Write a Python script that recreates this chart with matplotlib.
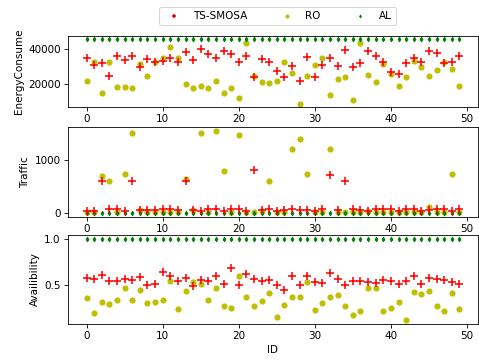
import matplotlib
matplotlib.use("Agg")
import matplotlib.pyplot as plt

ids = list(range(50))

energy_ts = [34700, 30500, 31800, 24200, 35800, 33300, 35800, 29300, 34300, 32200,
             33000, 34700, 32600, 37900, 33300, 39600, 36800, 34700, 38500, 36800,
             32200, 35800, 23800, 33900, 32200, 27000, 23800, 30100, 21500, 35400,
             23800, 30700, 34700, 29900, 38900, 29500, 31800, 38500, 35800, 32200,
             26500, 25500, 31800, 34700, 32200, 38500, 37500, 32000, 32200, 35800]
energy_ro = [21300, 32200, 14700, 32200, 17900, 18300, 17500, 31200, 24600, 32200,
             34900, 40600, 34900, 19800, 17500, 18900, 17500, 21300, 14700, 17500,
             11800, 43400, 24200, 20800, 20400, 21700, 32200, 26100, 8600, 24200,
             30900, 34500, 13700, 22700, 23600, 10900, 43400, 25100, 20800, 31200,
             25500, 18900, 23600, 33100, 29700, 24600, 28000, 32200, 28400, 18500]
energy_al = [45300] * 50

traffic_ts = [45, 45, 610, 78, 78, 45, 610, 65, 58, 58,
              78, 78, 65, 610, 58, 45, 78, 78, 45, 78,
              78, 45, 805, 58, 78, 45, 58, 78, 58, 58,
              45, 78, 715, 58, 610, 78, 65, 52, 78, 78,
              78, 45, 78, 78, 45, 65, 78, 78, 52, 78]
traffic_ro = [30, 25, 700, 600, 35, 730, 1505, 70, 30, 25,
              35, 30, 25, 640, 65, 1505, 30, 1540, 800, 30,
              1460, 25, 30, 45, 600, 25, 30, 1200, 1395, 730,
              25, 30, 1200, 30, 25, 35, 30, 45, 30, 25,
              30, 25, 35, 30, 25, 120, 30, 25, 730, 30]
traffic_al = [10] * 50

avail_ts = [0.577, 0.563, 0.603, 0.540, 0.540, 0.563, 0.559, 0.585, 0.504, 0.511,
            0.640, 0.596, 0.548, 0.570, 0.485, 0.552, 0.540, 0.592, 0.511, 0.680,
            0.504, 0.614, 0.563, 0.540, 0.552, 0.504, 0.441, 0.592, 0.504, 0.592,
            0.529, 0.522, 0.625, 0.563, 0.504, 0.540, 0.540, 0.529, 0.522, 0.552,
            0.540, 0.511, 0.540, 0.592, 0.511, 0.577, 0.563, 0.552, 0.529, 0.511]
avail_ro = [0.353, 0.191, 0.316, 0.290, 0.335, 0.471, 0.335, 0.445, 0.305, 0.316,
            0.335, 0.540, 0.235, 0.438, 0.529, 0.515, 0.335, 0.471, 0.265, 0.246,
            0.592, 0.364, 0.272, 0.327, 0.416, 0.155, 0.283, 0.371, 0.364, 0.529,
            0.228, 0.298, 0.371, 0.390, 0.272, 0.173, 0.217, 0.471, 0.471, 0.217,
            0.246, 0.309, 0.118, 0.427, 0.397, 0.438, 0.272, 0.217, 0.408, 0.235]
avail_al = [1.0] * 50

series_names = ["TS-SMOSA", "RO", "AL"]

DPI = 75
W, H = 479.0, 362.0
fig = plt.figure(figsize=(W / DPI, H / DPI), dpi=DPI)

left, right = 68 / W, 478 / W
boxes = [(36, 107), (127, 217), (235, 324)]
axes = []
for top, bottom in boxes:
    ax = fig.add_axes([left, 1 - bottom / H, right - left, (bottom - top) / H])
    axes.append(ax)

panels = [
    (energy_ts, energy_ro, energy_al, "EnergyConsume", [20000, 40000]),
    (traffic_ts, traffic_ro, traffic_al, "Traffic", [0, 1000]),
    (avail_ts, avail_ro, avail_al, "Availibility", [0.5, 1.0]),
]

handles = None
for ax, (ts, ro, al, label, yt) in zip(axes, panels):
    h1 = ax.scatter(ids, ts, marker="+", c="r", s=60, linewidths=1.5, zorder=3)
    h2 = ax.scatter(ids, ro, marker="o", c="y", s=24, zorder=2)
    h3 = ax.scatter(ids, al, marker="d", c="g", s=9, zorder=2)
    ax.set_ylabel(label)
    ax.set_yticks(yt)
    ax.set_xticks([0, 10, 20, 30, 40, 50])
    handles = [h1, h2, h3]

axes[-1].set_xlabel("ID")

fig.legend(handles, series_names, loc="upper center", ncol=3,
           bbox_to_anchor=(0.58, 0.995), markerscale=0.6, columnspacing=2.8)

fig.savefig("out.png", dpi=DPI)
